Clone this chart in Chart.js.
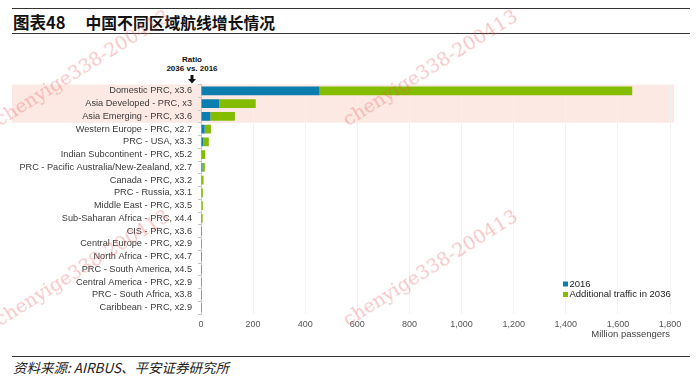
<!DOCTYPE html>
<html>
<head>
<meta charset="utf-8">
<script src="https://cdn.jsdelivr.net/npm/chart.js@4.4.1/dist/chart.umd.min.js"></script>
<style>
  html, body { margin:0; padding:0; background:#fff; }
  body { width:700px; height:384px; position:relative; overflow:hidden; font-family:"Liberation Sans", Arial, sans-serif; }
  .rule { position:absolute; left:12px; width:678px; height:0; border-top:1px solid #333; }
  #title { position:absolute; left:13px; top:11px; font-family:"Noto Sans CJK SC", sans-serif; font-weight:bold; font-size:15.8px; color:#111; line-height:22px; }
  #title span { display:inline-block; margin-right:20px; font-size:16.5px; }
  #ratio { position:absolute; left:152px; width:80px; top:55px; text-align:center; font-size:8px; font-weight:bold; color:#111; line-height:9px; }
  #source { position:absolute; left:13px; top:357px; font-family:"Noto Sans CJK SC", sans-serif; font-style:italic; font-size:13.5px; color:#222; line-height:20px; }
  #wrap { position:absolute; left:0; top:73px; width:700px; height:271px; }
  canvas { display:block; }
  .wm { position:absolute; font-family:"DejaVu Serif", serif; font-size:19px; color:rgba(230,90,90,0.35); transform:rotate(-32deg); transform-origin:left bottom; white-space:nowrap; pointer-events:none; }
</style>
</head>
<body>
<div class="rule" style="top:8px"></div>
<div id="title"><span>图表48</span>中国不同区域航线增长情况</div>
<div class="rule" style="top:33px"></div>
<div id="ratio">Ratio<br>2036 vs. 2016</div>
<svg style="position:absolute;left:187px;top:75px" width="10" height="9"><rect x="3.5" y="0" width="3" height="4" fill="#111"/><polygon points="1,4 9,4 5,8.5" fill="#111"/></svg>
<div id="wrap"><canvas id="c" width="700" height="271"></canvas></div>
<div class="rule" style="top:356px"></div>
<div id="source">资料来源: AIRBUS、平安证券研究所</div>
<div class="wm" style="left:2px;top:108px">chenyige338-200413</div>
<div class="wm" style="left:350px;top:108px">chenyige338-200413</div>
<div class="wm" style="left:2px;top:308px">chenyige338-200413</div>
<div class="wm" style="left:350px;top:308px">chenyige338-200413</div>
<script>
const categories = [
  "Domestic PRC, x3.6",
  "Asia Developed - PRC, x3",
  "Asia Emerging - PRC, x3.6",
  "Western Europe - PRC, x2.7",
  "PRC - USA, x3.3",
  "Indian Subcontinent - PRC, x5.2",
  "PRC - Pacific Australia/New-Zealand, x2.7",
  "Canada - PRC, x3.2",
  "PRC - Russia, x3.1",
  "Middle East - PRC, x3.5",
  "Sub-Saharan Africa - PRC, x4.4",
  "CIS - PRC, x3.6",
  "Central Europe - PRC, x2.9",
  "North Africa - PRC, x4.7",
  "PRC - South America, x4.5",
  "Central America - PRC, x2.9",
  "PRC - South Africa, x3.8",
  "Caribbean - PRC, x2.9"
];
const traffic2016 = [455, 70, 36, 14, 9, 3, 5.5, 3, 2.3, 2, 1.4, 1.1, 1, 0.5, 0.45, 0.5, 0.3, 0.2];
const additional2036 = [1200, 140, 94, 24, 21, 13, 9, 6.6, 4.8, 5, 4.8, 2.9, 2, 2, 1.6, 1, 0.9, 0.4];
const xTicks = [0, 200, 400, 600, 800, 1000, 1200, 1400, 1600, 1800];
const highlighted = [0, 1, 2];

const bandBehind = {
  id: 'bandBehind',
  beforeDraw(chart) {
    const ctx = chart.ctx, y = chart.scales.y;
    const step = (y.getPixelForValue(1) - y.getPixelForValue(0));
    const top = y.getPixelForValue(highlighted[0]) - step / 2;
    const bot = y.getPixelForValue(highlighted[highlighted.length - 1]) + step / 2;
    ctx.save();
    ctx.fillStyle = '#FDE9E3';
    ctx.fillRect(12, top, 662, bot - top);
    ctx.restore();
  }
};
const legendPlugin = {
  id: 'customLegend',
  afterDraw(chart) {
    const ctx = chart.ctx;
    const off = chart.canvas.getBoundingClientRect().top;
    ctx.save();
    ctx.font = '9.5px "Liberation Sans", Arial, sans-serif';
    ctx.textBaseline = 'middle';
    chart.data.datasets.forEach((ds, i) => {
      const yy = 284 - off + i * 10.5;
      ctx.fillStyle = ds.backgroundColor;
      ctx.fillRect(563, yy - 2.5, 5, 5);
      ctx.fillStyle = '#222';
      ctx.fillText(ds.label, 569.5, yy);
    });
    ctx.restore();
  }
};

new Chart(document.getElementById('c'), {
  type: 'bar',
  data: {
    labels: categories,
    datasets: [
      { label: '2016', data: traffic2016, backgroundColor: '#0B7DAE', barPercentage: 0.7, categoryPercentage: 1 },
      { label: 'Additional traffic in 2036', data: additional2036, backgroundColor: '#84BC00', barPercentage: 0.7, categoryPercentage: 1 }
    ]
  },
  options: {
    indexAxis: 'y',
    responsive: false,
    animation: false,
    layout: { padding: { top: 4, right: 30, left: 0, bottom: 0 } },
    plugins: { legend: { display: false }, tooltip: { enabled: false } },
    scales: {
      x: {
        stacked: true,
        min: 0, max: 1800,
        afterBuildTicks(s) { s.ticks = xTicks.map(v => ({ value: v })); },
        afterFit(s) { s.height = 30; },
        grid: { color: '#F1F1F1', drawTicks: false },
        border: { display: false },
        ticks: { padding: 5, color: '#555', font: { size: 9, family: '"Liberation Sans", Arial, sans-serif' },
                 callback: v => v.toLocaleString('en-US') },
        title: { display: true, text: 'Million passengers', align: 'end', color: '#444',
                 font: { size: 9.5, family: '"Liberation Sans", Arial, sans-serif' }, padding: { top: 0, bottom: 4 } }
      },
      y: {
        stacked: true,
        afterFit(s) { s.width = 201; },
        grid: { drawOnChartArea: false, tickLength: 3, color: '#C8C8C8' },
        border: { color: '#C8C8C8' },
        ticks: { padding: 6, color: '#3a3a3a', font: { size: 9.2, family: '"Liberation Sans", Arial, sans-serif' }, autoSkip: false }
      }
    }
  },
  plugins: [bandBehind, legendPlugin]
});
</script>
</body>
</html>
